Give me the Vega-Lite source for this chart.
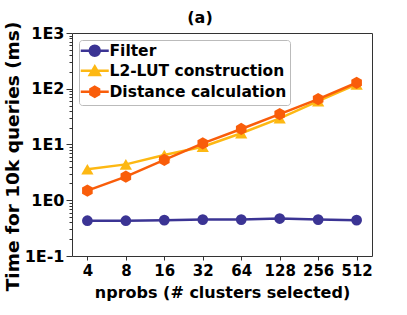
{
  "$schema": "https://vega.github.io/schema/vega-lite/v6.json",
  "width": 300,
  "height": 223,
  "autosize": {"type": "none"},
  "padding": {"left": 72, "top": 33, "right": 35, "bottom": 59},
  "background": "white",
  "title": {"text": "(a)", "fontSize": 16, "font": "DejaVu Sans", "fontWeight": "bold", "color": "black", "anchor": "middle", "dx": -22, "offset": -5},
  "config": {
    "view": {"stroke": "#333", "strokeWidth": 1},
    "font": "DejaVu Sans",
    "axis": {"labelFont": "DejaVu Sans", "titleFont": "DejaVu Sans", "labelFontWeight": "bold", "titleFontWeight": "bold", "labelColor": "black", "titleColor": "black", "tickColor": "#333", "domain": false, "grid": false},
    "legend": {"labelFont": "DejaVu Sans", "labelFontWeight": "bold", "labelFontSize": 15.5, "labelColor": "black", "labelLimit": 400}
  },
  "datasets": {
    "main": [
      {"nprobs": 4, "series": "Filter", "time": 0.43},
      {"nprobs": 8, "series": "Filter", "time": 0.43},
      {"nprobs": 16, "series": "Filter", "time": 0.44},
      {"nprobs": 32, "series": "Filter", "time": 0.45},
      {"nprobs": 64, "series": "Filter", "time": 0.45},
      {"nprobs": 128, "series": "Filter", "time": 0.47},
      {"nprobs": 256, "series": "Filter", "time": 0.45},
      {"nprobs": 512, "series": "Filter", "time": 0.44},
      {"nprobs": 4, "series": "L2-LUT construction", "time": 3.6},
      {"nprobs": 8, "series": "L2-LUT construction", "time": 4.4},
      {"nprobs": 16, "series": "L2-LUT construction", "time": 6.5},
      {"nprobs": 32, "series": "L2-LUT construction", "time": 9.1},
      {"nprobs": 64, "series": "L2-LUT construction", "time": 15.9},
      {"nprobs": 128, "series": "L2-LUT construction", "time": 29.5},
      {"nprobs": 256, "series": "L2-LUT construction", "time": 60},
      {"nprobs": 512, "series": "L2-LUT construction", "time": 120},
      {"nprobs": 4, "series": "Distance calculation", "time": 1.49},
      {"nprobs": 8, "series": "Distance calculation", "time": 2.65},
      {"nprobs": 16, "series": "Distance calculation", "time": 5.3},
      {"nprobs": 32, "series": "Distance calculation", "time": 10.5},
      {"nprobs": 64, "series": "Distance calculation", "time": 19},
      {"nprobs": 128, "series": "Distance calculation", "time": 35},
      {"nprobs": 256, "series": "Distance calculation", "time": 65},
      {"nprobs": 512, "series": "Distance calculation", "time": 128}
    ],
    "none": []
  },
  "layer": [
    {
      "data": {"name": "main"},
      "mark": {"type": "line", "strokeWidth": 2.5},
      "encoding": {
        "x": {"field": "nprobs", "type": "ordinal", "scale": {"type": "point", "padding": 0.4},
          "axis": {"labelAngle": 0, "labelFontSize": 15, "tickSize": 4, "labelPadding": 3, "title": "nprobs (# clusters selected)", "titleFontSize": 16, "titlePadding": 6}},
        "y": {"field": "time", "type": "quantitative",
          "scale": {"type": "log", "domain": [0.1, 1000], "nice": false},
          "axis": {
            "title": "Time for 10k queries (ms)", "titleFontSize": 18.5, "titlePadding": 2, "titleY": 123,
            "labelFontSize": 16, "labelPadding": 2, "labelOverlap": false,
            "values": [0.1,0.2,0.3,0.4,0.5,0.6,0.7,0.8,0.9,1,2,3,4,5,6,7,8,9,10,20,30,40,50,60,70,80,90,100,200,300,400,500,600,700,800,900,1000],
            "labelExpr": "abs(log(datum.value)/LN10 - round(log(datum.value)/LN10)) < 0.001 ? '1E' + round(log(datum.value)/LN10) : ''",
            "tickSize": {"condition": {"test": "abs(log(datum.value)/LN10 - round(log(datum.value)/LN10)) < 0.001", "value": 6}, "value": 3}
          }},
        "color": {"field": "series", "type": "nominal", "legend": null,
          "scale": {"domain": ["Filter", "L2-LUT construction", "Distance calculation"], "range": ["#3b3494", "#fdb813", "#f95d0a"]}}
      }
    },
    {
      "data": {"name": "main"},
      "transform": [{"filter": "datum.series == 'Filter'"}],
      "mark": {"type": "point", "filled": true, "opacity": 1, "size": 115, "shape": "circle"},
      "encoding": {
        "x": {"field": "nprobs", "type": "ordinal"},
        "y": {"field": "time", "type": "quantitative"},
        "color": {"field": "series", "type": "nominal", "legend": null}
      }
    },
    {
      "data": {"name": "main"},
      "transform": [{"filter": "datum.series == 'L2-LUT construction'"}],
      "mark": {"type": "point", "filled": true, "opacity": 1, "size": 150, "shape": "triangle-up"},
      "encoding": {
        "x": {"field": "nprobs", "type": "ordinal"},
        "y": {"field": "time", "type": "quantitative"},
        "color": {"field": "series", "type": "nominal", "legend": null}
      }
    },
    {
      "data": {"name": "main"},
      "transform": [{"filter": "datum.series == 'Distance calculation'"}],
      "mark": {"type": "point", "filled": true, "opacity": 1, "size": 150, "shape": "M0,-1L0.866,-0.5L0.866,0.5L0,1L-0.866,0.5L-0.866,-0.5Z"},
      "encoding": {
        "x": {"field": "nprobs", "type": "ordinal"},
        "y": {"field": "time", "type": "quantitative"},
        "color": {"field": "series", "type": "nominal", "legend": null}
      }
    },
    {
      "data": {"name": "none"},
      "mark": {"type": "point", "filled": true, "opacity": 1, "size": 110, "strokeWidth": 2.5},
      "encoding": {
        "fill": {"field": "series", "type": "nominal",
          "scale": {"domain": ["Filter", "L2-LUT construction", "Distance calculation"], "range": ["#3b3494", "#fdb813", "#f95d0a"]},
          "legend": {"title": null, "orient": "top-left", "offset": 7, "padding": 3, "strokeColor": "#bbb", "cornerRadius": 3, "fillColor": "white", "symbolOffset": 5, "labelOffset": 7, "rowPadding": 0, "symbolStrokeWidth": 2.5}},
        "stroke": {"field": "series", "type": "nominal",
          "scale": {"domain": ["Filter", "L2-LUT construction", "Distance calculation"], "range": ["#3b3494", "#fdb813", "#f95d0a"]},
          "legend": {"title": null, "orient": "top-left", "offset": 7, "padding": 3, "strokeColor": "#bbb", "cornerRadius": 3, "fillColor": "white", "symbolOffset": 5, "labelOffset": 7, "rowPadding": 0, "symbolStrokeWidth": 2.5}},
        "shape": {"field": "series", "type": "nominal",
          "scale": {"domain": ["Filter", "L2-LUT construction", "Distance calculation"], "range": [
            "M-2.8,0L2.8,0M1,0A1,1,0,1,1,-1,0A1,1,0,1,1,1,0Z",
            "M-2.8,0L2.8,0M0,-0.866L1,0.866L-1,0.866Z",
            "M-2.8,0L2.8,0M0,-1L0.866,-0.5L0.866,0.5L0,1L-0.866,0.5L-0.866,-0.5Z"]},
          "legend": {"title": null, "orient": "top-left", "offset": 7, "padding": 3, "strokeColor": "#bbb", "cornerRadius": 3, "fillColor": "white", "symbolOffset": 5, "labelOffset": 7, "rowPadding": 0, "symbolStrokeWidth": 2.5}}
      }
    }
  ],
  "resolve": {"scale": {"fill": "independent", "stroke": "independent", "shape": "independent"}, "legend": {"fill": "independent", "stroke": "independent", "shape": "independent"}}
}
